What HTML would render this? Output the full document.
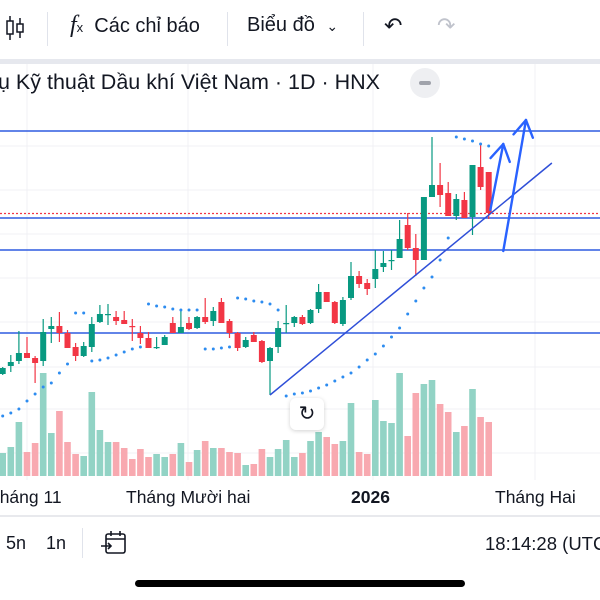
<!DOCTYPE html>
<html><head><meta charset="utf-8">
<style>
body{margin:0;width:600px;height:600px;overflow:hidden;background:#fff;font-family:"Liberation Sans",sans-serif;color:#131722;position:relative}
.t{position:absolute;white-space:nowrap}
</style></head><body>
<div style="position:absolute;left:0;top:0;width:600px;height:58px;background:#fff"></div>
<svg class="t" style="left:4px;top:14px" width="22" height="28" viewBox="0 0 22 28"><line x1="6" y1="2" x2="6" y2="26" stroke="#131722" stroke-width="1.5"/><rect x="3" y="7" width="6" height="13" fill="#fff" stroke="#131722" stroke-width="1.5"/><line x1="16" y1="4" x2="16" y2="24" stroke="#131722" stroke-width="1.5"/><rect x="13" y="10" width="6" height="8" fill="#fff" stroke="#131722" stroke-width="1.5"/></svg>
<div style="position:absolute;left:47px;top:12px;width:1px;height:34px;background:#e0e3eb"></div>
<div class="t" style="left:70px;top:12px;font-size:20px"><i style="font-family:'Liberation Serif',serif;font-size:24px">f</i><span style="font-size:13px">x</span>&nbsp;&nbsp;Các chỉ báo</div>
<div style="position:absolute;left:227px;top:12px;width:1px;height:34px;background:#e0e3eb"></div>
<div class="t" style="left:247px;top:14px;font-size:20px">Biểu đồ <span style="font-size:14px;margin-left:6px">&#8964;</span></div>
<div style="position:absolute;left:363px;top:12px;width:1px;height:34px;background:#e0e3eb"></div>
<div class="t" style="left:384px;top:13px;font-size:22px">&#8630;</div>
<div class="t" style="left:437px;top:13px;font-size:22px;color:#c0c3cc">&#8631;</div>
<div style="position:absolute;left:0;top:59px;width:600px;height:5px;background:#e6e8ee"></div>

<svg id="chart" style="position:absolute;left:0;top:64px" width="600" height="452" viewBox="0 64 600 452"></svg>

<div class="t" style="left:-2px;top:70px;font-size:21.5px">ụ Kỹ thuật Dầu khí Việt Nam · 1D · HNX</div>
<div style="position:absolute;left:410px;top:68px;width:30px;height:30px;border-radius:15px;background:#eeeff2"><div style="position:absolute;left:9px;top:13px;width:12px;height:4px;border-radius:2px;background:#a0a3ab"></div></div>

<div class="t" style="left:-11px;top:487px;font-size:17.5px">Tháng 11</div>
<div class="t" style="left:126px;top:487px;font-size:17.5px">Tháng Mười hai</div>
<div class="t" style="left:351px;top:487px;font-size:17.5px;font-weight:bold">2026</div>
<div class="t" style="left:495px;top:487px;font-size:17.5px">Tháng Hai</div>

<div style="position:absolute;left:290px;top:398px;width:34px;height:32px;border-radius:6px;background:#fff;box-shadow:0 1px 4px rgba(0,0,0,.18);font-size:20px;text-align:center;line-height:32px">&#8635;</div>

<div style="position:absolute;left:0;top:515px;width:600px;height:2px;background:#e8e9ed"></div>
<div class="t" style="left:6px;top:533px;font-size:18px">5n</div>
<div class="t" style="left:46px;top:533px;font-size:18px">1n</div>
<div style="position:absolute;left:82px;top:528px;width:1px;height:30px;background:#e0e3eb"></div>
<svg class="t" style="left:100px;top:530px" width="28" height="26" viewBox="0 0 28 26"><rect x="6" y="4" width="19" height="19" rx="2" fill="none" stroke="#131722" stroke-width="1.6"/><line x1="6" y1="9" x2="25" y2="9" stroke="#131722" stroke-width="1.6"/><line x1="11" y1="1" x2="11" y2="6" stroke="#131722" stroke-width="1.6"/><line x1="20" y1="1" x2="20" y2="6" stroke="#131722" stroke-width="1.6"/><path d="M1 16h10M8 13l3 3-3 3" fill="none" stroke="#131722" stroke-width="1.6"/></svg>
<div class="t" style="left:485px;top:533px;font-size:18.5px">18:14:28 (UTC</div>
<div style="position:absolute;left:135px;top:580px;width:330px;height:7px;border-radius:4px;background:#000"></div>

<script>
const opens=[12.6,13.4,13.9,14.7,14.2,13.9,17.1,17.4,16.7,15.3,14.4,15.3,17.8,18.5,18.3,18.0,17.4,16.7,16.2,15.2,15.5,17.7,16.7,17.7,17.2,18.3,17.9,19.8,17.9,16.7,15.3,16.5,15.9,13.9,15.3,17.6,17.7,18.3,17.7,19.1,20.8,19.8,17.6,20.2,22.4,21.7,22.1,23.3,23.9,24.2,27.5,25.2,24.0,30.3,31.5,30.7,28.4,30.0,28.3,33.3,32.8];
const highs=[13.3,14.5,16.9,16.3,14.4,18.1,18.3,18.8,17.0,15.7,15.8,18.3,19.5,19.6,18.9,18.9,18.1,17.4,16.8,16.3,16.5,18.3,19.1,18.3,18.4,20.2,19.3,20.2,18.1,16.8,16.3,16.8,16.0,15.3,17.9,19.5,18.4,18.5,19.1,21.6,20.8,19.9,20.3,23.8,22.9,22.1,25.0,24.9,25.0,28.0,28.7,26.6,30.3,36.3,33.7,31.8,30.6,30.8,33.5,35.7,32.8];
const lows=[12.5,12.8,13.6,14.2,11.7,13.4,15.7,15.8,15.2,13.9,14.3,14.8,17.7,17.5,17.5,17.6,15.9,15.6,15.2,15.1,15.5,16.7,16.7,17.0,17.1,17.6,17.4,17.7,16.2,14.9,15.2,15.8,13.7,10.5,14.7,16.7,17.3,17.5,17.6,18.7,19.8,17.6,17.4,20.0,21.2,20.5,21.2,22.8,23.0,24.2,25.0,22.4,24.0,30.3,29.3,28.4,28.0,28.2,26.5,31.0,28.1];
const closes=[13.2,13.8,14.7,14.2,13.7,16.8,17.4,16.7,15.2,14.4,15.4,17.6,18.6,18.6,17.9,17.6,17.3,16.2,15.2,15.3,16.3,16.7,17.3,17.1,18.3,17.8,18.9,17.7,16.7,15.2,16.0,15.8,13.8,15.2,17.2,17.7,18.3,17.6,19.0,20.8,19.8,17.7,20.0,22.4,21.6,21.1,23.1,23.7,24.0,26.1,25.2,24.0,30.3,31.5,30.5,28.4,30.1,28.2,33.5,31.3,28.7];
const volumes=[23,29,54,24,33,103,43,65,34,22,20,84,46,34,34,28,17,27,19,22,19,22,33,14,26,35,28,28,24,23,11,12,27,19,27,36,19,23,35,44,39,32,35,73,24,22,76,55,53,103,40,83,92,96,72,64,44,50,87,59,54];
const sar=[8.4,8.7,9.1,9.9,10.6,11.3,11.7,12.7,13.6,18.7,18.7,13.9,14.0,14.2,14.5,14.8,15.1,15.3,19.6,19.4,19.3,19.1,19.0,19.0,19.0,15.1,15.1,15.2,15.3,20.2,20.1,19.9,19.8,19.6,19.0,10.4,10.6,10.7,10.9,11.2,11.5,11.9,12.3,12.7,13.3,14.0,14.6,15.4,16.3,17.2,18.6,19.9,21.2,22.3,24.0,26.2,36.3,36.1,35.9,35.6,35.4];
const hLevels=[36.9,28.2,25.0,16.7];
const lastPrice=28.7;
const trendStart=[33,10.5], trendEnd=[67.8,33.7];
const arrow1=[[60.2,29.0],[61.8,35.6]], arrow2=[[61.8,24.9],[64.6,38.0]];

const NS='http://www.w3.org/2000/svg';
const svg=document.getElementById('chart');
const X=i=>2.7+8.1*i;
const Y=p=>500-10*p;
const VY=v=>476-v;
function mk(tag,attrs,parent){const e=document.createElementNS(NS,tag);for(const k in attrs)e.setAttribute(k,attrs[k]);(parent||svg).appendChild(e);return e;}

[146,190,234,278,322,367,409,453].forEach(y=>{const g=mk('line',{x1:0,x2:600,y1:y,y2:y,stroke:'#f0f1f4','stroke-width':1});

});
[27,188,373,535].forEach(x=>{const g=mk('line',{x1:x,x2:x,y1:64,y2:480,stroke:'#f0f1f4','stroke-width':1});

});

volumes.forEach((v,i)=>{const up=closes[i]>=opens[i];
const r=mk('rect',{x:X(i)-3.3,y:VY(v),width:6.6,height:v,fill:up?'#92d3c5':'#f8a9b0'});

});

hLevels.forEach(p=>{const l=mk('line',{x1:0,x2:600,y1:Y(p),y2:Y(p),stroke:'#2f5be0','stroke-width':1.5});

});
const lp=mk('line',{x1:0,x2:600,y1:Y(lastPrice)+0.5,y2:Y(lastPrice)+0.5,stroke:'#f23645','stroke-width':1.2,'stroke-dasharray':'2 2'});



opens.forEach((o,i)=>{const c=closes[i],up=c>=o,col=up?'#089981':'#f23645';
const g=mk('g',{});


mk('line',{x1:X(i),x2:X(i),y1:Y(highs[i]),y2:Y(lows[i]),stroke:col,'stroke-width':1.2},g);
const t=Y(Math.max(o,c)),b=Y(Math.min(o,c));
mk('rect',{x:X(i)-3,y:t,width:6,height:Math.max(1.2,b-t),fill:col},g);});

sar.forEach((s,i)=>{const d=mk('circle',{cx:X(i),cy:Y(s),r:1.5,fill:'#2d8cf0'});

});

const tl=mk('line',{x1:X(trendStart[0]),y1:Y(trendStart[1]),x2:X(trendEnd[0]),y2:Y(trendEnd[1]),stroke:'#2f4fd8','stroke-width':1.5});



function arrow(a,name){const [s,e]=a;const x1=X(s[0]),y1=Y(s[1]),x2=X(e[0]),y2=Y(e[1]);
const g=mk('g',{stroke:'#2962ff','stroke-width':2.4,fill:'none','stroke-linecap':'round'});


mk('line',{x1,y1,x2,y2},g);
const ang=Math.atan2(y2-y1,x2-x1),L=19;
[ang+2.6,ang-2.6].forEach(a2=>mk('line',{x1:x2,y1:y2,x2:x2+L*Math.cos(a2),y2:y2+L*Math.sin(a2)},g));}
arrow(arrow1,'arrow-small');
arrow(arrow2,'arrow-large');
</script>
</body></html>
